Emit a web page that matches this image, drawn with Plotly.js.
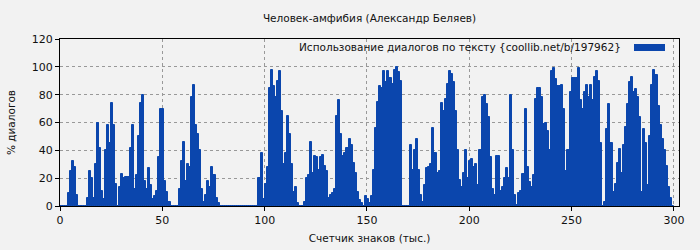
<!DOCTYPE html>
<html>
<head>
<meta charset="utf-8">
<script src="https://cdn.plot.ly/plotly-3.0.1.min.js"></script>
<style>
  html, body { margin: 0; padding: 0; background: #f2f2f2; }
  #chart { width: 700px; height: 250px; }
</style>
</head>
<body>
<div id="chart"></div>
<script>
// Title and labels
const chartTitle = "Человек-амфибия (Александр Беляев)";
const xTitle = "Счетчик знаков (тыс.)";
const yTitle = "% диалогов";
const seriesName = "Использование диалогов по тексту {coollib.net/b/197962}";

// Tick labels
const xTicks = [0, 50, 100, 150, 200, 250, 300];
const yTicks = [0, 20, 40, 60, 80, 100, 120];

// Dialogue share (%) per thousand characters, starting at 0
const dialogPct = [
  0,0,0,0,9,25,32,28,8,0,
  0,0,0,6,25,20,6,30,60,42,
  11,5,40,58,45,74,58,16,0,14,
  23,20,21,21,42,58,12,22,50,74,
  80,18,12,27,15,5,7,11,35,70,
  70,18,10,3,0,0,0,0,12,32,
  46,18,30,28,78,87,58,52,40,12,
  3,8,18,14,28,22,6,2,0,0,
  0,0,0,0,0,0,0,0,0,0,
  0,0,0,0,0,0,0,20,38,5,
  16,28,85,98,86,78,90,97,68,30,
  38,65,52,30,10,14,2,0,0,3,
  20,22,46,24,36,35,26,35,37,29,
  25,6,8,9,12,65,76,52,36,38,
  42,48,44,31,24,10,4,2,0,7,
  5,2,7,26,56,75,86,85,97,89,
  97,92,88,98,100,96,90,0,0,0,
  0,44,26,40,48,26,8,3,15,27,
  28,30,56,38,24,25,74,68,77,88,
  97,95,89,68,40,19,14,24,40,20,
  32,34,28,30,15,40,78,80,73,64,
  35,12,8,36,36,11,14,20,27,20,
  80,40,8,1,9,11,23,70,28,17,
  14,22,77,85,85,78,59,60,54,40,
  97,99,91,86,86,87,70,25,40,82,
  92,92,92,99,76,70,82,87,78,87,
  76,93,97,90,45,0,3,55,73,45,
  10,16,31,41,24,44,57,73,89,93,
  82,84,78,64,10,55,45,15,50,87,
  98,94,72,58,48,40,29,14,6,0
];
// Counter position (thousands of characters) of each bar
const counter = dialogPct.map((_, i) => i);

const barColor = '#0b46ad';
const font = { family: 'DejaVu Sans, sans-serif', size: 11, color: '#111' };
const smallFont = { family: 'DejaVu Sans, sans-serif', size: 10.5, color: '#111' };

const trace = {
  type: 'bar',
  x: counter,
  y: dialogPct,
  width: 1,
  offset: 0,
  name: seriesName,
  marker: { color: barColor, line: { width: 1, color: barColor } },
  hoverinfo: 'skip',
  showlegend: false
};

const layout = {
  width: 700,
  height: 250,
  margin: { l: 60, r: 21, t: 39, b: 44, pad: 0 },
  paper_bgcolor: '#f2f2f2',
  plot_bgcolor: '#f2f2f2',
  font: font,
  bargap: 0,
  title: {
    text: chartTitle,
    font: smallFont,
    xref: 'paper', x: 0.5, xanchor: 'center',
    yref: 'container', y: 1 - 18 / 250, yanchor: 'middle'
  },
  xaxis: {
    range: [0, 302.5],
    tickvals: xTicks,
    ticktext: xTicks.map(String),
    ticks: 'outside', ticklen: 4, tickcolor: '#000',
    showline: true, linecolor: '#000', linewidth: 1, mirror: true,
    showgrid: true, gridcolor: '#999', griddash: '3px,3px', gridwidth: 1,
    zeroline: false,
    automargin: false,
    fixedrange: true,
    title: { text: xTitle, font: smallFont, standoff: 8 }
  },
  yaxis: {
    range: [0, 120],
    tickvals: yTicks,
    ticktext: yTicks.map(String),
    ticks: 'outside', ticklen: 4, tickcolor: '#000',
    showline: true, linecolor: '#000', linewidth: 1, mirror: true,
    showgrid: true, gridcolor: '#999', griddash: '3px,3px', gridwidth: 1,
    zeroline: false,
    automargin: false,
    fixedrange: true,
    title: { text: yTitle, font: smallFont, standoff: 14 }
  },
  annotations: [{
    text: seriesName,
    xref: 'paper', yref: 'paper',
    x: (623 - 60) / 619, xanchor: 'right',
    y: (206 - 47) / 167, yanchor: 'middle',
    showarrow: false,
    font: smallFont
  }],
  shapes: [{
    type: 'rect', xref: 'paper', yref: 'paper',
    x0: (634 - 60) / 619, x1: (665 - 60) / 619,
    y0: (206 - 51) / 167, y1: (206 - 44) / 167,
    fillcolor: barColor, line: { width: 0 }
  }]
};

Plotly.newPlot('chart', [trace], layout, { displayModeBar: false });
</script>
</body>
</html>
